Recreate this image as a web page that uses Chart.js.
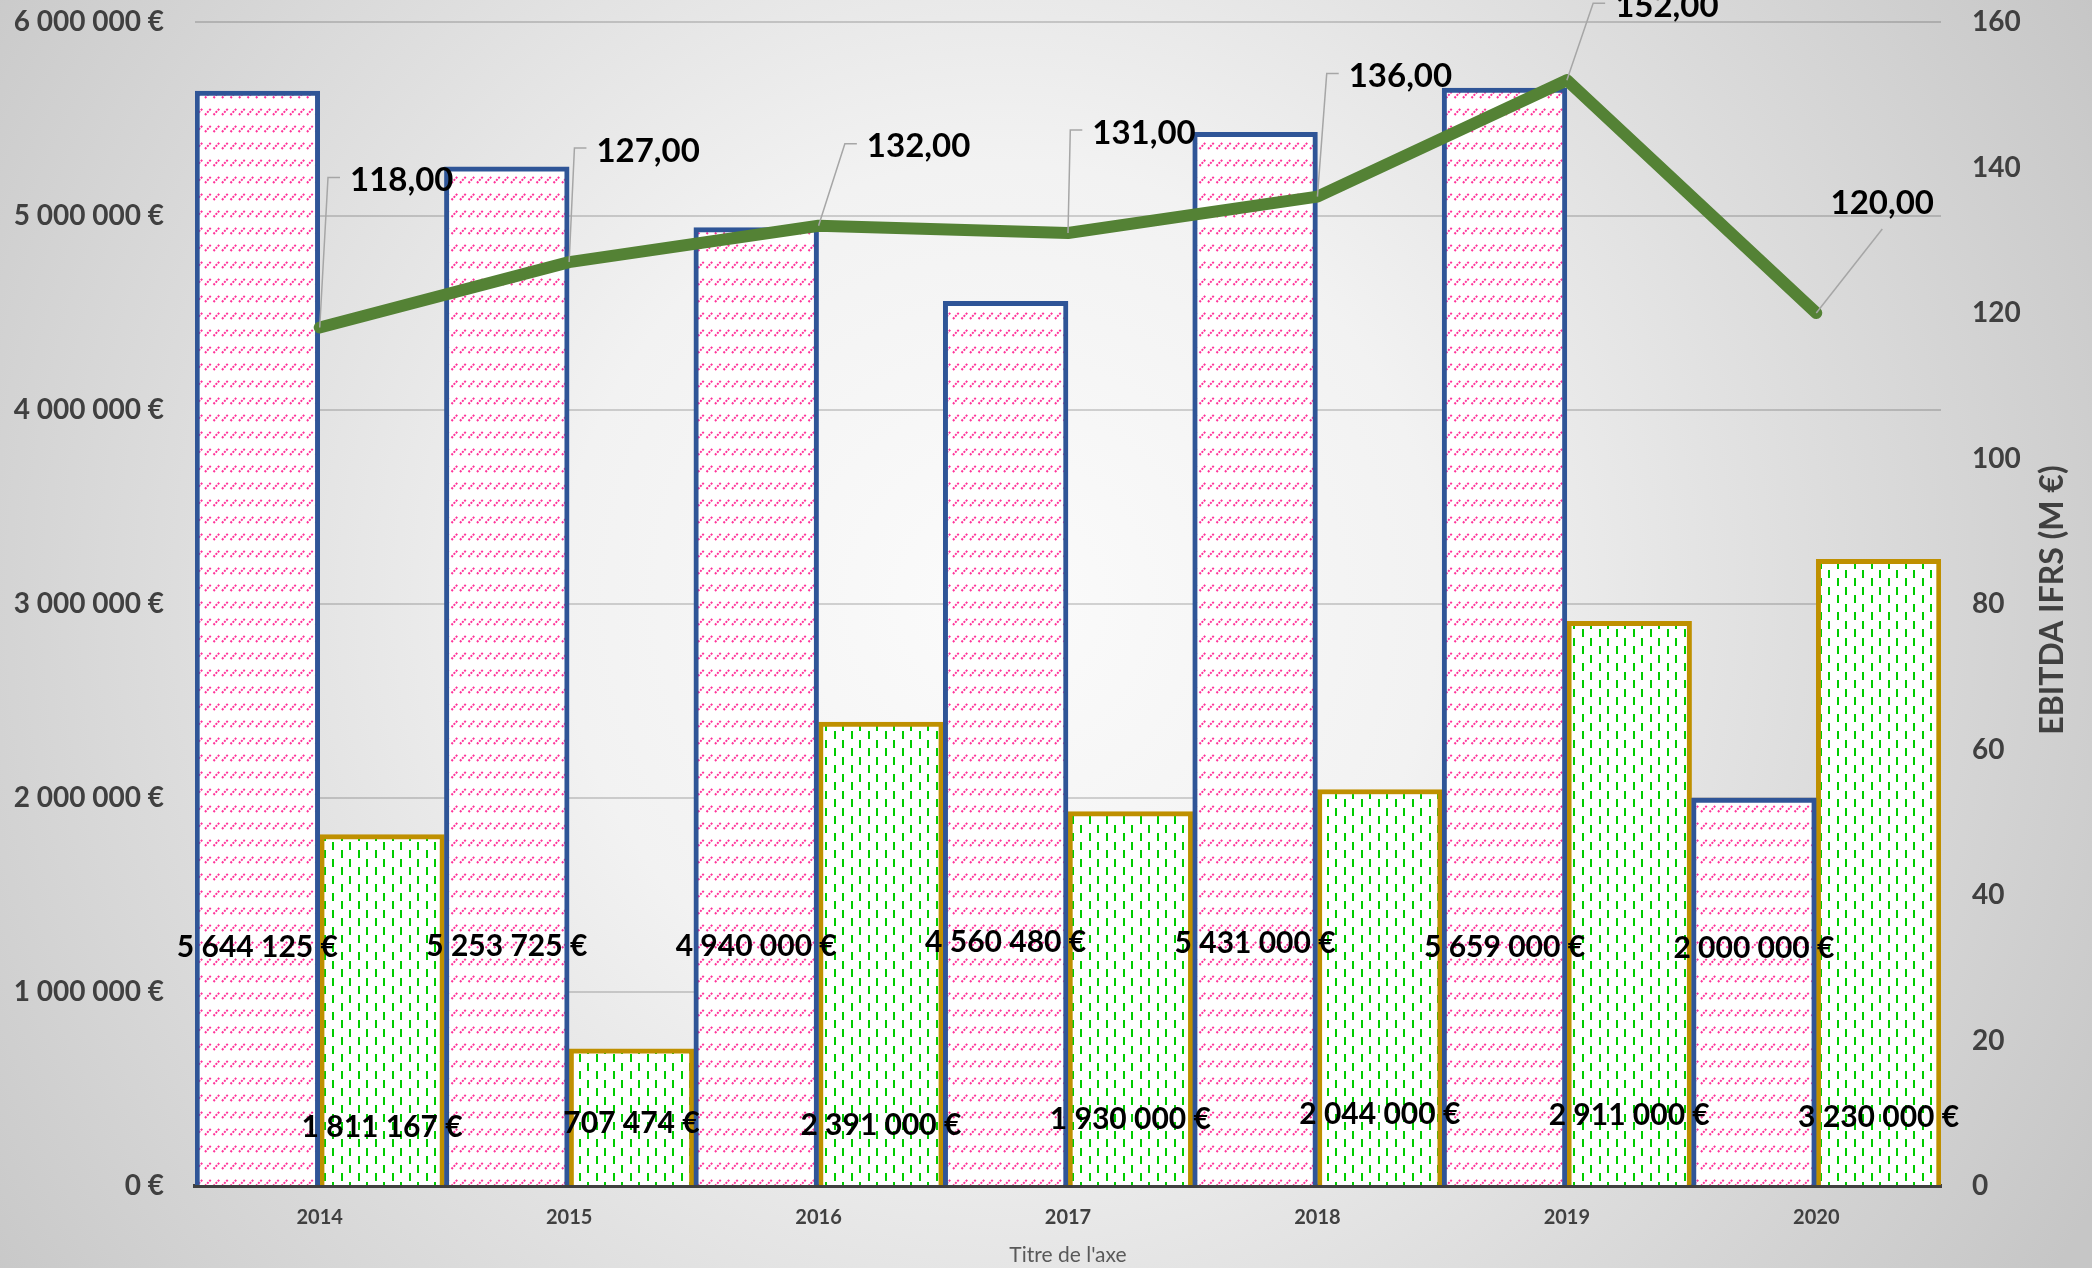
<!DOCTYPE html>
<html>
<head>
<meta charset="utf-8">
<script src="https://cdn.jsdelivr.net/npm/chart.js@4.4.1/dist/chart.umd.min.js"></script>
<style>
  html, body { margin: 0; padding: 0; overflow: hidden; }
  #wrap { width: 2092px; height: 1268px; }
</style>
</head>
<body>
<div id="wrap"><canvas id="chart" width="2092" height="1268"></canvas></div>
<script>
// chart data
const years = ["2014", "2015", "2016", "2017", "2018", "2019", "2020"];
const chiffreAffaires = [5644125, 5253725, 4940000, 4560480, 5431000, 5659000, 2000000];
const resultat = [1811167, 707474, 2391000, 1930000, 2044000, 2911000, 3230000];
const ebitda = [118, 127, 132, 131, 136, 152, 120];
const leftAxisMax = 6000000;
const leftAxisStep = 1000000;
const rightAxisMax = 160;
const rightAxisStep = 20;
const xTitle = "Titre de l'axe";
const y1Title = "EBITDA IFRS (M €)";

// label placement (px): bar labels above bottom, line labels relative to point
const blueLabelLift = [239, 240, 240, 244, 243, 239, 238];
const greenLabelLift = [59, 63, 61, 67, 72, 71, 69];
const lineLabelOffset = [[82, -147], [79, -111], [100, -79], [76, -100], [83, -120], [100, -74], [66, -110]];

const FONT = "Lato, 'Open Sans', sans-serif";

const fmtEuro = (v) => String(Math.round(v)).replace(/\B(?=(\d{3})+(?!\d))/g, " ") + " €";
const fmtDec = (v) => v.toFixed(2).replace(".", ",");

function pinkHatch() {
  const t = document.createElement("canvas");
  t.width = 17; t.height = 17;
  const g = t.getContext("2d");
  g.fillStyle = "#ffffff";
  g.fillRect(0, 0, 17, 17);
  g.strokeStyle = "#ff3399";
  g.lineWidth = 2;
  g.setLineDash([2, 1.2]);
  [0, 8.5].forEach((x0) => {
    g.beginPath();
    g.moveTo(x0 + 1, 13);
    g.lineTo(x0 + 7.5, 6);
    g.stroke();
  });
  return g.createPattern(t, "repeat");
}

function greenDash() {
  const t = document.createElement("canvas");
  t.width = 17; t.height = 17;
  const g = t.getContext("2d");
  g.fillStyle = "#ffffff";
  g.fillRect(0, 0, 17, 17);
  g.fillStyle = "#00cc00";
  g.fillRect(1, 0, 2, 8);
  g.fillRect(9, 9, 2, 8);
  return g.createPattern(t, "repeat");
}

const backdrop = {
  id: "backdrop",
  beforeDraw(chart) {
    const { ctx, width, height } = chart;
    const grad = ctx.createRadialGradient(1000, 600, 0, 1000, 600, 1250);
    grad.addColorStop(0, "#fbfbfb");
    grad.addColorStop(0.35, "#f2f2f2");
    grad.addColorStop(1, "#c6c6c6");
    ctx.save();
    ctx.fillStyle = grad;
    ctx.fillRect(0, 0, width, height);
    ctx.restore();
  }
};

const valueLabels = {
  id: "valueLabels",
  afterDatasetsDraw(chart) {
    const { ctx, chartArea } = chart;
    ctx.save();
    ctx.fillStyle = "#000000";
    ctx.textBaseline = "middle";
    ctx.textAlign = "center";
    ctx.font = "bold 30px " + FONT;

    chart.getDatasetMeta(0).data.forEach((bar, i) => {
      ctx.fillText(fmtEuro(chiffreAffaires[i]), bar.x, chartArea.bottom - blueLabelLift[i]);
    });
    chart.getDatasetMeta(1).data.forEach((bar, i) => {
      ctx.fillText(fmtEuro(resultat[i]), bar.x, chartArea.bottom - greenLabelLift[i]);
    });

    // line labels with leader lines
    ctx.font = "bold 33px " + FONT;
    chart.getDatasetMeta(2).data.forEach((pt, i) => {
      const txt = fmtDec(ebitda[i]);
      const w = ctx.measureText(txt).width;
      const cx = pt.x + lineLabelOffset[i][0];
      const cy = pt.y + lineLabelOffset[i][1];
      const left = cx - w / 2;
      ctx.strokeStyle = "#a6a6a6";
      ctx.lineWidth = 1.5;
      ctx.beginPath();
      if (pt.x < left - 20) {
        ctx.moveTo(pt.x, pt.y);
        ctx.lineTo(left - 22, cy - 3);
        ctx.lineTo(left - 10, cy - 3);
      } else {
        ctx.moveTo(pt.x, pt.y);
        ctx.lineTo(cx, cy + 26);
      }
      ctx.stroke();
      ctx.fillText(txt, cx, cy);
    });

    // axis titles
    ctx.fillStyle = "#404040";
    ctx.font = "bold 32px " + FONT;
    ctx.translate(2053, 600);
    ctx.rotate(-Math.PI / 2);
    ctx.fillText(y1Title, 0, 0);
    ctx.setTransform(1, 0, 0, 1, 0, 0);
    ctx.fillStyle = "#595959";
    ctx.font = "21px " + FONT;
    ctx.fillText(xTitle, (chartArea.left + chartArea.right) / 2, 1255);
    ctx.restore();
  }
};

new Chart(document.getElementById("chart"), {
  type: "bar",
  data: {
    labels: years,
    datasets: [
      {
        label: "Chiffre d'affaires",
        data: chiffreAffaires,
        backgroundColor: pinkHatch(),
        borderColor: "#2f5597",
        borderWidth: 5,
        yAxisID: "y",
        order: 1
      },
      {
        label: "Résultat",
        data: resultat,
        backgroundColor: greenDash(),
        borderColor: "#bf9000",
        borderWidth: 5,
        yAxisID: "y",
        order: 1
      },
      {
        type: "line",
        label: "EBITDA IFRS",
        data: ebitda,
        borderColor: "#548235",
        borderWidth: 12,
        borderJoinStyle: "round",
        borderCapStyle: "round",
        pointRadius: 0,
        tension: 0,
        yAxisID: "y1",
        order: 0
      }
    ]
  },
  options: {
    responsive: false,
    animation: false,
    devicePixelRatio: 1,
    layout: { padding: { top: 22, left: 0, right: 0, bottom: 0 } },
    datasets: {
      bar: { barPercentage: 1, categoryPercentage: 1 }
    },
    scales: {
      x: {
        grid: { display: false, drawTicks: false },
        border: { display: true, color: "#404040", width: 4 },
        ticks: { color: "#404040", padding: 20, font: { family: FONT, size: 20, weight: "bold" } },
        afterFit: (s) => { s.height = 82; s.paddingLeft = 0; s.paddingRight = 0; }
      },
      y: {
        position: "left",
        min: 0,
        max: leftAxisMax,
        grid: { color: "rgba(0,0,0,0.16)", lineWidth: 2, drawTicks: false },
        border: { display: false },
        ticks: {
          stepSize: leftAxisStep,
          color: "#404040",
          padding: 31,
          font: { family: FONT, size: 28, weight: "bold" },
          callback: (v) => fmtEuro(v)
        },
        afterFit: (s) => { s.width = 195; s.paddingTop = 0; s.paddingBottom = 0; }
      },
      y1: {
        position: "right",
        min: 0,
        max: rightAxisMax,
        grid: { drawOnChartArea: false, drawTicks: false },
        border: { display: false },
        ticks: {
          stepSize: rightAxisStep,
          color: "#404040",
          padding: 31,
          font: { family: FONT, size: 28, weight: "bold" }
        },
        afterFit: (s) => { s.width = 151; s.paddingTop = 0; s.paddingBottom = 0; }
      }
    },
    plugins: {
      legend: { display: false },
      tooltip: { enabled: false }
    }
  },
  plugins: [backdrop, valueLabels]
});
</script>
</body>
</html>
